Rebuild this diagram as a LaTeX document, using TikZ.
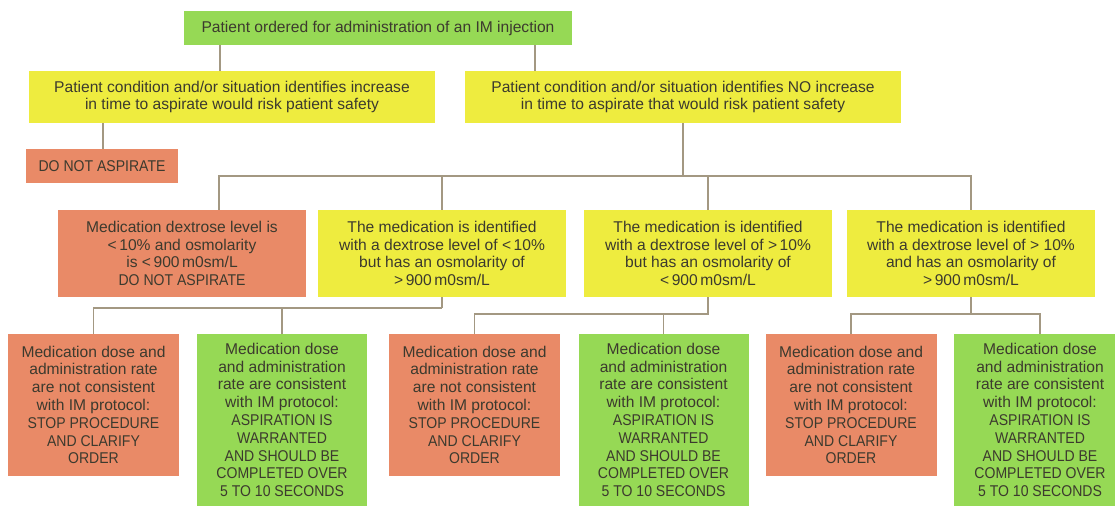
\documentclass[tikz,border=0pt]{standalone}
\usepackage{fontspec}
\setmainfont{Liberation Sans}
\definecolor{grn}{HTML}{96D955}
\definecolor{ylw}{HTML}{EEEC3F}
\definecolor{org}{HTML}{E98A67}
\definecolor{lnc}{HTML}{A39882}
\definecolor{txt}{HTML}{3C3A2E}
\newcommand{\ucx}[1]{\scalebox{0.9}[1]{#1}}
\tikzset{
  box/.style={inner sep=0pt, align=center, text=txt, font=\fontsize{15.6}{17.8}\selectfont},
  gbox/.style={box, fill=grn},
  ybox/.style={box, fill=ylw},
  obox/.style={box, fill=org},
  conn/.style={draw=lnc, line width=1.6pt}
}
\begin{document}
\begin{tikzpicture}[x=1pt,y=-1pt]
\clip (0,0) rectangle (1115,506);
\fill[white] (0,0) rectangle (1115,506);
% level 0
\node[gbox, minimum width=388, minimum height=34] (top) at (378,28) {Patient ordered for administration of an IM injection};
% level 1
\node[ybox, minimum width=406, minimum height=52] (ly) at (232,97) {Patient condition and/or situation identifies increase\\in time to aspirate would risk patient safety};
\node[ybox, minimum width=436, minimum height=52] (ry) at (683,97) {Patient condition and/or situation identifies NO increase\\in time to aspirate that would risk patient safety};
\node[obox, minimum width=152, minimum height=34] (dna) at (102,166) {\ucx{DO NOT ASPIRATE}};
% level 2
\node[obox, minimum width=248, minimum height=87] (A) at (182,253.5) {Medication dextrose level is\\<\,10\% and osmolarity\\is <\,900\,m0sm/L\\\ucx{DO NOT ASPIRATE}};
\node[ybox, minimum width=248, minimum height=87] (B) at (442,253.5) {The medication is identified\\with a dextrose level of <\,10\%\\but has an osmolarity of\\>\,900\,m0sm/L};
\node[ybox, minimum width=248, minimum height=87] (C) at (708,253.5) {The medication is identified\\with a dextrose level of >\,10\%\\but has an osmolarity of\\<\,900\,m0sm/L};
\node[ybox, minimum width=248, minimum height=87] (D) at (971,253.5) {The medication is identified\\with a dextrose level of > 10\%\\and has an osmolarity of\\>\,900\,m0sm/L};
% level 3
\node[obox, minimum width=171, minimum height=142] (E) at (93.5,405) {Medication dose and\\administration rate\\are not consistent\\with IM protocol:\\\ucx{STOP PROCEDURE}\\\ucx{AND CLARIFY}\\\ucx{ORDER}};
\node[gbox, minimum width=170, minimum height=172] (F) at (282,420) {Medication dose\\and administration\\rate are consistent\\with IM protocol:\\\ucx{ASPIRATION IS}\\\ucx{WARRANTED}\\\ucx{AND SHOULD BE}\\\ucx{COMPLETED OVER}\\\ucx{5 TO 10 SECONDS}};
\node[obox, minimum width=171, minimum height=142] (G) at (474.5,405) {Medication dose and\\administration rate\\are not consistent\\with IM protocol:\\\ucx{STOP PROCEDURE}\\\ucx{AND CLARIFY}\\\ucx{ORDER}};
\node[gbox, minimum width=170, minimum height=172] (H) at (663.5,420) {Medication dose\\and administration\\rate are consistent\\with IM protocol:\\\ucx{ASPIRATION IS}\\\ucx{WARRANTED}\\\ucx{AND SHOULD BE}\\\ucx{COMPLETED OVER}\\\ucx{5 TO 10 SECONDS}};
\node[obox, minimum width=171, minimum height=142] (I) at (851,405) {Medication dose and\\administration rate\\are not consistent\\with IM protocol:\\\ucx{STOP PROCEDURE}\\\ucx{AND CLARIFY}\\\ucx{ORDER}};
\node[gbox, minimum width=172, minimum height=172] (J) at (1040,420) {Medication dose\\and administration\\rate are consistent\\with IM protocol:\\\ucx{ASPIRATION IS}\\\ucx{WARRANTED}\\\ucx{AND SHOULD BE}\\\ucx{COMPLETED OVER}\\\ucx{5 TO 10 SECONDS}};
% connectors
\coordinate (t1) at (220,0);
\coordinate (t2) at (535,0);
\draw[conn] (t1 |- top.south) -- (t1 |- ly.north);
\draw[conn] (t2 |- top.south) -- (t2 |- ry.north);
\coordinate (l1) at (103,0);
\draw[conn] (l1 |- ly.south) -- (l1 |- dna.north);
\coordinate (bus) at (219,176);
\draw[conn] (ry.south) -- (ry.south |- bus);
\draw[conn] (bus |- A.north) -- (bus) -- (D.north |- bus) -- (D.north);
\draw[conn] (B.north |- bus) -- (B.north);
\draw[conn] (C.north |- bus) -- (C.north);
\coordinate (bB) at (0,308);
\draw[conn] (B.south) -- (B.south |- bB);
\draw[conn] (E.north) -- (E.north |- bB) -- (B.south |- bB);
\draw[conn] (F.north) -- (F.north |- bB);
\coordinate (bC) at (0,314);
\draw[conn] (C.south) -- (C.south |- bC) -- (G.north |- bC) -- (G.north);
\draw[conn] (H.north) -- (H.north |- bC);
\coordinate (bD) at (0,314);
\draw[conn] (D.south) -- (D.south |- bD);
\draw[conn] (I.north) -- (I.north |- bD) -- (J.north |- bD) -- (J.north);
\end{tikzpicture}
\end{document}
